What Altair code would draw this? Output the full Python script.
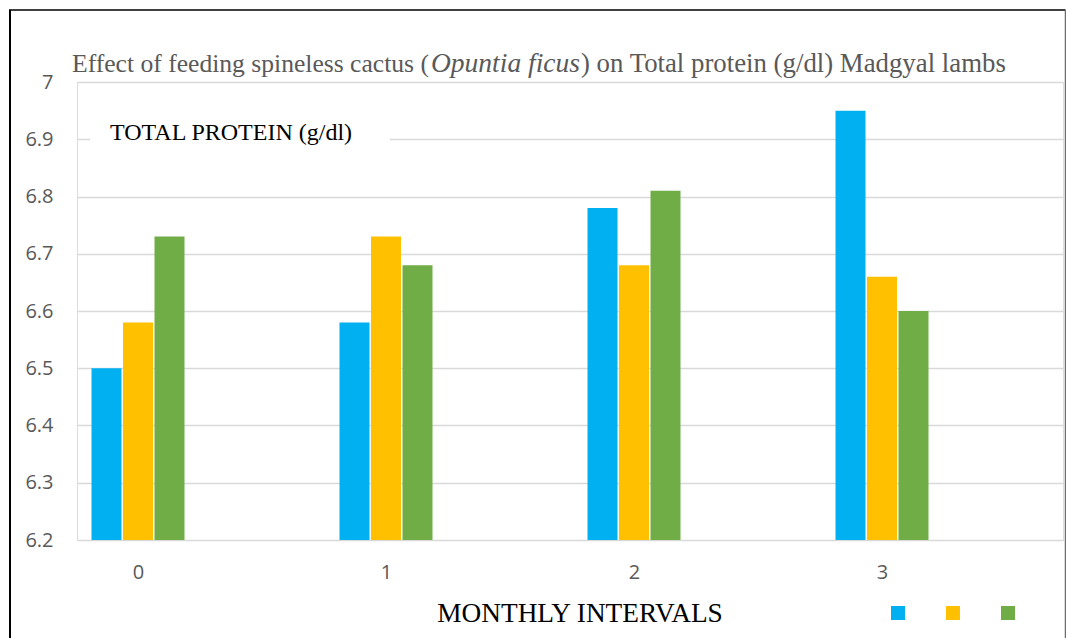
import altair as alt
import pandas as pd

months = [0, 1, 2, 3]
series = ["Group I", "Group II", "Group III"]
colors = ["#00B0F0", "#FFC000", "#70AD47"]
group_i = [6.50, 6.58, 6.78, 6.95]
group_ii = [6.58, 6.73, 6.68, 6.66]
group_iii = [6.73, 6.68, 6.81, 6.60]
y_ticks = [6.2, 6.3, 6.4, 6.5, 6.6, 6.7, 6.8, 6.9, 7.0]

rows = []
for si, (name, vals) in enumerate(zip(series, [group_i, group_ii, group_iii])):
    for m, v in zip(months, vals):
        rows.append({"month": m, "series": name, "idx": si, "value": v})
df = pd.DataFrame(rows)

W, H = 986, 458
SERIF = "Liberation Serif"
SANS = "Open Sans"

xscale = alt.Scale(domain=[-0.246, 3.7298], nice=False, zero=False)
yscale = alt.Scale(domain=[6.2, 7.0], nice=False, zero=False)

bars = alt.Chart(df).transform_calculate(
    x0="datum.month + (datum.idx - 1) * 0.127 - 0.0605",
    x1="datum.month + (datum.idx - 1) * 0.127 + 0.0605",
).mark_bar().encode(
    x=alt.X("x0:Q", scale=xscale,
            axis=alt.Axis(values=months, title=None, grid=False, domain=False, ticks=False,
                          labelFont=SANS, labelFontSize=20, labelColor="#595959",
                          labelPadding=22, format="d")),
    x2="x1:Q",
    y=alt.Y("value:Q", scale=yscale,
            axis=alt.Axis(values=y_ticks, title=None, domain=False, ticks=False,
                          gridColor="#d9d9d9", gridWidth=1.3,
                          labelFont=SANS, labelFontSize=20, labelColor="#595959",
                          labelPadding=24, labelExpr="datum.value == 7 ? '7' : format(datum.value, '.1f')")),
    y2=alt.datum(6.2),
    color=alt.Color("series:N", scale=alt.Scale(domain=series, range=colors),
                    legend=alt.Legend(orient="none", legendX=814, legendY=524, direction="horizontal",
                                      title=None, symbolType="square", symbolSize=196,
                                      symbolStrokeWidth=0, labelExpr="''", labelOffset=0,
                                      columnPadding=41, padding=0)),
)

one = alt.Data(values=[{}])

white_box = alt.Chart(one).mark_rect(color="white").encode(
    x=alt.value(13), x2=alt.value(313), y=alt.value(44), y2=alt.value(72)
)

ylabel_text = alt.Chart(one).mark_text(
    text="TOTAL PROTEIN (g/dl)", font=SERIF, fontSize=24, color="black",
    align="left", baseline="alphabetic"
).encode(x=alt.value(33), y=alt.value(58))

title1 = alt.Chart(one).mark_text(
    text="Effect of feeding spineless cactus (", font=SERIF, fontSize=25.6, color="#595959",
    align="left", baseline="alphabetic"
).encode(x=alt.value(-5), y=alt.value(-10))
title2 = alt.Chart(one).mark_text(
    text="Opuntia ficus", font=SERIF, fontSize=27.5, fontStyle="italic", color="#595959",
    align="left", baseline="alphabetic"
).encode(x=alt.value(354), y=alt.value(-10))
title3 = alt.Chart(one).mark_text(
    text=") on Total protein (g/dl) Madgyal lambs", font=SERIF, fontSize=26.8, color="#595959",
    align="left", baseline="alphabetic"
).encode(x=alt.value(504), y=alt.value(-10))

xtitle = alt.Chart(one).mark_text(
    text="MONTHLY INTERVALS", font=SERIF, fontSize=27.3, color="black",
    align="center", baseline="alphabetic"
).encode(x=alt.value(503), y=alt.value(540))

frame_left = alt.Chart(one).mark_rule(color="black", strokeWidth=2).encode(
    x=alt.value(-67), y=alt.value(-72), y2=alt.value(570))
frame_top = alt.Chart(one).mark_rule(color="black", strokeWidth=1.5).encode(
    x=alt.value(-68), x2=alt.value(988.5), y=alt.value(-72))
frame_right = alt.Chart(one).mark_rule(color="#6e6e6e", strokeWidth=1.5).encode(
    x=alt.value(988.5), y=alt.value(-72), y2=alt.value(570))

chart = alt.layer(
    bars, white_box, ylabel_text, title1, title2, title3, xtitle,
    frame_left, frame_top, frame_right
).properties(
    width=W, height=H,
    autosize=alt.AutoSizeParams(type="none"),
    padding={"left": 77, "top": 82, "right": 3, "bottom": 98},
).configure_view(stroke=None).configure(background="white")

chart.save("out.html", embed_options={"renderer": "svg", "actions": False})
